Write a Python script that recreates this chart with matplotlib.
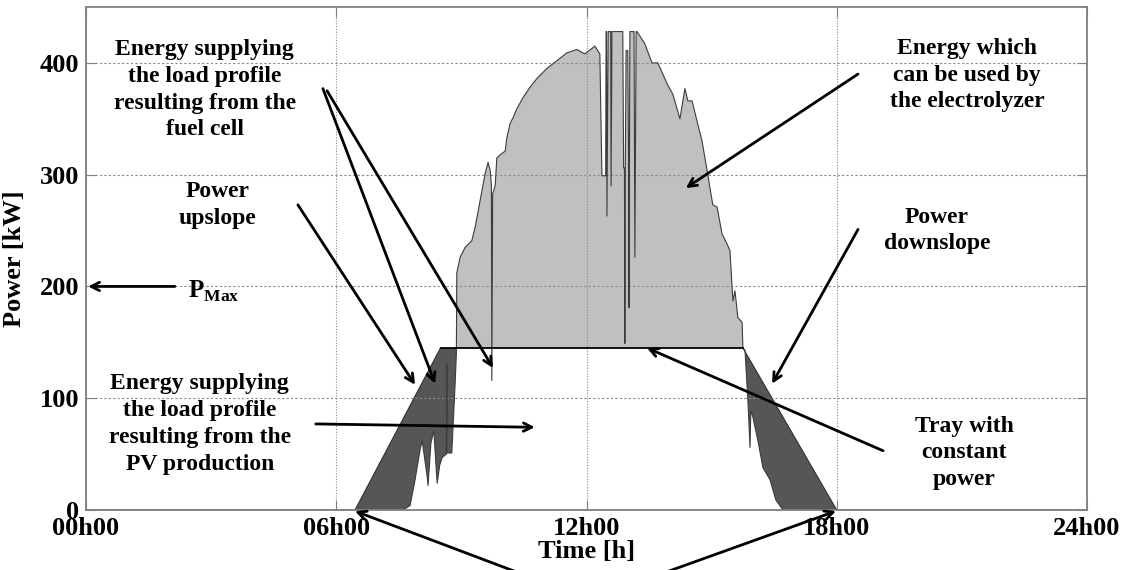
import numpy as np
import matplotlib
matplotlib.use("Agg")
import matplotlib.pyplot as plt

plt.rcParams['font.family'] = ['Liberation Serif', 'DejaVu Serif']
plt.rcParams['font.weight'] = 'bold'
plt.rcParams['axes.labelweight'] = 'bold'
plt.rcParams['mathtext.fontset'] = 'custom'
plt.rcParams['mathtext.bf'] = 'Liberation Serif:bold'
plt.rcParams['mathtext.rm'] = 'Liberation Serif:bold'

# PV production [kW] (time in hours)
pv_t = [0, 7.60, 7.77, 7.89, 8.01, 8.06, 8.18, 8.20, 8.27, 8.34, 8.40, 8.42, 8.48,
        8.54, 8.64, 8.65, 8.66, 8.77, 8.85, 8.88, 8.89, 8.97, 9.09, 9.25, 9.33,
        9.45, 9.57, 9.64, 9.69, 9.72, 9.73, 9.75, 9.81, 9.85, 9.97, 10.05, 10.09,
        10.17, 10.24, 10.33, 10.48, 10.64, 10.81, 11.05, 11.29, 11.53, 11.77, 11.96,
        12.20, 12.32, 12.37, 12.46, 12.47, 12.48, 12.49, 12.52, 12.54, 12.58, 12.59,
        12.61, 12.87, 12.89, 12.91, 12.92, 12.93, 12.95, 12.99, 13.01, 13.02, 13.03,
        13.04, 13.14, 13.16, 13.19, 13.21, 13.35, 13.40, 13.57, 13.71, 13.83, 13.95,
        14.07, 14.24, 14.36, 14.43, 14.53, 14.65, 14.77, 14.89, 15.01, 15.03, 15.13,
        15.25, 15.37, 15.44, 15.51, 15.56, 15.63, 15.73, 15.75, 15.80, 15.87, 15.92,
        15.94, 15.99, 16.11, 16.23, 16.40, 16.54, 16.71, 24]
pv_p = [0, 0, 4, 27, 54, 62, 30, 22, 60, 71, 35, 24, 40,
        47, 50, 131, 51, 51, 113, 140, 212, 226, 235, 241, 253,
        277, 301, 311, 304, 290, 116, 283, 290, 315, 319, 321, 333,
        346, 351, 359, 369, 378, 386, 395, 402, 409, 412, 408,
        415, 408, 299, 299, 428, 428, 263, 428, 428, 428, 290,
        428, 428, 306, 306, 149, 306, 411, 411, 306, 181, 306,
        428, 428, 226, 428, 428, 420, 417, 400, 400, 390, 380,
        372, 350, 377, 366, 366, 348, 330, 304, 277, 273, 271,
        247, 238, 232, 187, 196, 172, 168, 145, 143, 98, 56,
        89, 83, 62, 38, 27, 9, 0, 0]

# load profile corners: upslope, tray with constant power, downslope
load_t = [0, 6.45, 8.50, 15.75, 18.0, 24]
load_p = [0, 0, 145, 145, 0, 0]

t = np.union1d(pv_t, load_t)
pv = np.interp(t, pv_t, pv_p)
load = np.interp(t, load_t, load_p)

fig = plt.figure(figsize=(11.24, 5.70), dpi=100)
ax = fig.add_axes([86/1124, 60/570, 1001/1124, 503/570])

ax.fill_between(t, load, pv, where=pv >= load, interpolate=True,
                color='#c0c0c0', lw=0)
ax.fill_between(t, pv, load, where=pv < load, interpolate=True,
                color='#565656', lw=0)
ax.plot(t, pv, color='#3c3c3c', lw=0.8)
ax.plot(load_t[1:3], load_p[1:3], color='#303030', lw=0.8)
ax.plot(load_t[3:5], load_p[3:5], color='#303030', lw=0.8)
ax.plot(load_t[2:4], load_p[2:4], color='black', lw=1.3)

ax.set_xlim(0, 24)
ax.set_ylim(0, 450)
ax.set_xticks([0, 6, 12, 18, 24])
ax.set_xticklabels(['00h00', '06h00', '12h00', '18h00', '24h00'])
ax.set_yticks([0, 100, 200, 300, 400])
ax.grid(True, axis='y', color='#8a8a8a', linestyle=(0, (2, 2)), lw=0.8)
ax.grid(True, axis='x', color='#8a8a8a', linestyle=(0, (1, 1.5)), lw=0.8)
ax.tick_params(direction='in', length=7, color='#808080', labelsize=19,
               right=True, top=True)
ax.tick_params(axis='x', pad=5)
ax.tick_params(axis='y', pad=5)
for s in ax.spines.values():
    s.set_color('#808080')
    s.set_linewidth(1.3)

ax.set_xlabel('Time [h]', fontsize=19, va='center')
ax.xaxis.set_label_coords(0.5, -0.083)
ax.set_ylabel('Power [kW]', fontsize=19, va='center')
ax.yaxis.set_label_coords(-0.071, 0.5)

fs = 17
ls = 1.36
arrow = dict(arrowstyle='->,head_length=0.6,head_width=0.3', lw=2,
             color='black', shrinkA=0, shrinkB=0)

def note(xy, xytext):
    ax.annotate('', xy=xy, xytext=xytext, arrowprops=arrow,
                annotation_clip=False)

ax.text(2.85, 376, 'Energy supplying\nthe load profile\nresulting from the\nfuel cell',
        ha='center', va='center', fontsize=fs, linespacing=ls)
note((8.37, 113), (5.68, 377))
note((9.76, 127), (5.78, 375))

ax.text(3.16, 273, 'Power\nupslope', ha='center', va='center', fontsize=fs,
        linespacing=ls)
note((7.89, 112), (5.08, 273))

ax.text(2.45, 196, r'$\mathbf{P}_{\mathbf{Max}}$', ha='left', va='center',
        fontsize=fs + 1)
note((0.05, 200), (2.13, 200))

ax.text(2.73, 77, 'Energy supplying\nthe load profile\nresulting from the\nPV production',
        ha='center', va='center', fontsize=fs, linespacing=ls)
note((10.76, 74), (5.51, 77))

ax.text(21.12, 389, 'Energy which\ncan be used by\nthe electrolyzer',
        ha='center', va='center', fontsize=fs, linespacing=ls)
note((14.38, 288), (18.51, 390))

ax.text(20.40, 250, 'Power\ndownslope', ha='center', va='center', fontsize=fs,
        linespacing=ls)
note((16.45, 113), (18.51, 251))

ax.text(21.05, 51, 'Tray with\nconstant\npower', ha='center', va='center',
        fontsize=fs, linespacing=ls)
note((13.45, 145), (19.11, 53))

note((6.45, -1), (10.29, -55))
note((17.98, -1), (13.95, -55))

fig.savefig('out.png', dpi=100)
